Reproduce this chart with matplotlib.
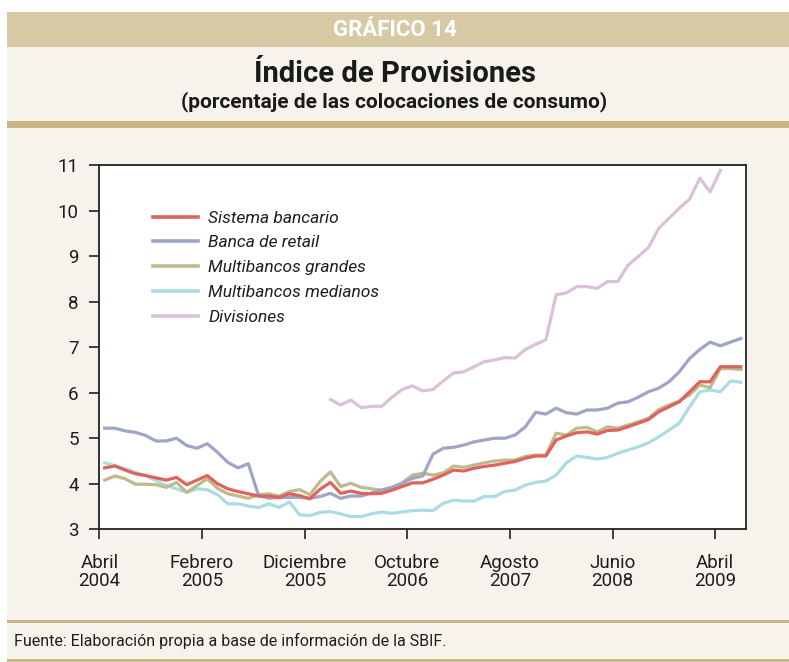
import numpy as np
import matplotlib
matplotlib.use("Agg")
import matplotlib.pyplot as plt
from matplotlib import font_manager as fm
from matplotlib.patches import Rectangle
from matplotlib.lines import Line2D

# ---------------- data ----------------
tick_labels = ["Abril\n2004", "Febrero\n2005", "Diciembre\n2005", "Octubre\n2006",
               "Agosto\n2007", "Junio\n2008", "Abril\n2009"]
series_names = ["Sistema bancario", "Banca de retail", "Multibancos grandes",
                "Multibancos medianos", "Divisiones"]

sistema = [4.35, 4.39, 4.30, 4.22, 4.18, 4.13, 4.08, 4.14, 3.98, 4.08,
           4.18, 4.00, 3.89, 3.83, 3.78, 3.73, 3.73, 3.70, 3.78, 3.74,
           3.67, 3.88, 4.03, 3.79, 3.84, 3.79, 3.78, 3.79, 3.86, 3.94,
           4.02, 4.02, 4.10, 4.19, 4.30, 4.28, 4.34, 4.38, 4.41, 4.45,
           4.49, 4.56, 4.61, 4.61, 4.96, 5.05, 5.12, 5.14, 5.09, 5.17,
           5.18, 5.25, 5.33, 5.41, 5.58, 5.69, 5.80, 6.02, 6.24, 6.24,
           6.57, 6.57, 6.57]
retail = [5.22, 5.22, 5.16, 5.13, 5.06, 4.94, 4.94, 5.00, 4.84, 4.78,
          4.88, 4.69, 4.47, 4.35, 4.44, 3.74, 3.68, 3.70, 3.70, 3.70,
          3.68, 3.72, 3.79, 3.68, 3.73, 3.73, 3.80, 3.86, 3.92, 4.01,
          4.12, 4.17, 4.65, 4.78, 4.80, 4.85, 4.92, 4.96, 5.00, 5.00,
          5.07, 5.25, 5.57, 5.53, 5.66, 5.56, 5.53, 5.62, 5.62, 5.66,
          5.77, 5.80, 5.90, 6.02, 6.10, 6.24, 6.46, 6.75, 6.95, 7.11,
          7.03, 7.11, 7.19]
grandes = [4.08, 4.17, 4.11, 3.99, 3.99, 3.98, 3.92, 4.03, 3.81, 3.96,
           4.11, 3.90, 3.78, 3.73, 3.68, 3.76, 3.78, 3.73, 3.83, 3.87,
           3.76, 4.05, 4.26, 3.94, 4.01, 3.92, 3.89, 3.86, 3.92, 4.02,
           4.19, 4.23, 4.19, 4.24, 4.39, 4.36, 4.41, 4.46, 4.50, 4.52,
           4.52, 4.60, 4.63, 4.63, 5.11, 5.07, 5.22, 5.24, 5.14, 5.25,
           5.22, 5.29, 5.36, 5.44, 5.63, 5.73, 5.82, 5.95, 6.17, 6.11,
           6.53, 6.53, 6.51]
medianos = [4.46, 4.40, 4.33, 4.25, 4.18, 4.07, 3.96, 3.89, 3.81, 3.89,
            3.87, 3.76, 3.56, 3.56, 3.51, 3.48, 3.56, 3.48, 3.60, 3.32,
            3.30, 3.37, 3.39, 3.34, 3.28, 3.28, 3.34, 3.38, 3.35, 3.38,
            3.41, 3.42, 3.41, 3.57, 3.64, 3.62, 3.62, 3.72, 3.72, 3.83,
            3.86, 3.97, 4.03, 4.06, 4.19, 4.46, 4.61, 4.58, 4.54, 4.58,
            4.67, 4.74, 4.81, 4.90, 5.03, 5.18, 5.33, 5.69, 6.02, 6.06,
            6.02, 6.26, 6.23]
divisiones = [None] * 22 + [
    5.85, 5.73, 5.84, 5.67, 5.70, 5.70, 5.90, 6.07, 6.15, 6.04,
    6.07, 6.26, 6.43, 6.46, 6.57, 6.68, 6.72, 6.77, 6.76, 6.95,
    7.06, 7.16, 8.15, 8.19, 8.33, 8.33, 8.29, 8.44, 8.44, 8.80,
    8.99, 9.19, 9.61, 9.83, 10.05, 10.25, 10.71, 10.41, 10.88] + [None] * 2

# ---------------- fonts ----------------
avail = {f.name for f in fm.fontManager.ttflist}
def pick(*names):
    for n in names:
        if n in avail:
            return n
    return "DejaVu Sans"
COND = pick("Liberation Sans Narrow", "DejaVu Sans Condensed", "Roboto", "Open Sans")
BOLD = COND

W, H = 789, 662
fig = plt.figure(figsize=(W / 100, H / 100), dpi=100)
fig.patch.set_facecolor("white")

def fx(px):
    return px / W
def fy(py):
    return 1 - py / H

cream = "#F6F3EC"
tan = "#D6C9A3"
tan2 = "#C8B888"
txt = "#1e1e1e"

# panel background
fig.add_artist(Rectangle((fx(7), 0), 1 - fx(7), fy(12), transform=fig.transFigure,
                         facecolor=cream, edgecolor="none", zorder=0))
# header band
fig.add_artist(Rectangle((fx(7), fy(47)), 1 - fx(7), fy(12) - fy(47), transform=fig.transFigure,
                         facecolor=tan, edgecolor="none", zorder=1))
fig.text(0.5, fy(30), "GRÁFICO 14", ha="center", va="center", color="white",
         fontsize=16, fontweight="bold", family=BOLD)
fig.text(0.5, fy(74), "Índice de Provisiones", ha="center", va="center", color="#1a1a1a",
         fontsize=21, fontweight="bold", family=BOLD)
fig.text(0.5, fy(102), "(porcentaje de las colocaciones de consumo)", ha="center", va="center",
         color="#1a1a1a", fontsize=15, fontweight="bold", family=BOLD)
# separators
fig.add_artist(Rectangle((fx(7), fy(128)), 1 - fx(7), fy(121) - fy(128), transform=fig.transFigure,
                         facecolor=tan2, edgecolor="none", zorder=1))
fig.add_artist(Rectangle((fx(7), fy(623)), 1 - fx(7), fy(620) - fy(623), transform=fig.transFigure,
                         facecolor=tan2, edgecolor="none", zorder=1))
fig.add_artist(Rectangle((fx(7), fy(662)), 1 - fx(7), fy(659) - fy(662), transform=fig.transFigure,
                         facecolor=tan2, edgecolor="none", zorder=1))
fig.text(fx(14), fy(641), "Fuente: Elaboración propia a base de información de la SBIF.",
         ha="left", va="center", color=txt, fontsize=11.5, family=COND)

# ---------------- axes ----------------
ax = fig.add_axes([fx(99.5), fy(529.3), fx(746) - fx(99.5), fy(165) - fy(529.3)])
ax.set_facecolor("white")
ax.set_zorder(2)

n = len(sistema)
x = np.arange(n) + 0.5

def arr(v):
    return np.array([np.nan if a is None else a for a in v], dtype=float)

colors = ["#E0625C", "#9EA5C6", "#BEBA8C", "#AADCE4", "#DAC1D9"]
data = [sistema, retail, grandes, medianos, divisiones]
zorders = [6, 5, 4, 3, 2]
lw = 2.3
for name, vals, c, z in zip(series_names, data, colors, zorders):
    ax.plot(x, arr(vals), color=c, lw=lw, zorder=z)

ax.set_xlim(0, 63)
ax.set_ylim(3, 11)
ax.set_yticks(range(3, 12))
ax.set_yticklabels([str(v) for v in range(3, 12)], family=COND, fontsize=13.5)
ax.set_xticks([0, 10, 20, 30, 40, 50, 60])
ax.set_xticklabels(tick_labels, family=COND, fontsize=13.5, linespacing=1.0)
ax.tick_params(axis="both", direction="out", length=7, width=1.2, color="#222222",
               labelcolor=txt)
ax.tick_params(axis="y", pad=8)
ax.tick_params(axis="x", pad=11)
for s in ax.spines.values():
    s.set_linewidth(1.3)
    s.set_color("#222222")

handles = [Line2D([0], [0], color=c, lw=2.6) for c in colors]
leg = ax.legend(handles, series_names, loc="upper left",
                bbox_to_anchor=((137 - 99.5) / (746 - 99.5), (529.3 - 195) / (529.3 - 165)),
                frameon=False, handlelength=2.6, handletextpad=0.6, labelspacing=0.55,
                prop={"family": COND, "style": "italic", "size": 12.5})
for t in leg.get_texts():
    t.set_color(txt)

fig.savefig("out.png", dpi=100, facecolor=fig.get_facecolor())
